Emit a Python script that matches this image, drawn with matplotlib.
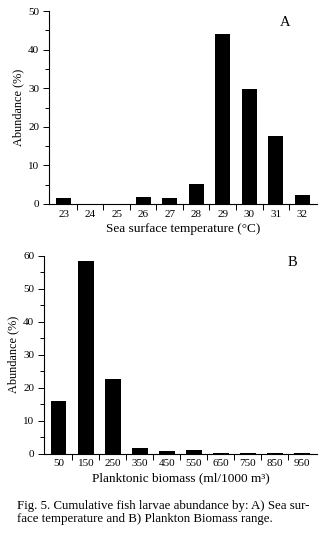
import numpy as np
import matplotlib.pyplot as plt
from matplotlib.ticker import MultipleLocator, FixedLocator

plt.rcParams['font.family'] = ['Liberation Serif', 'DejaVu Serif']

# A) abundance by sea surface temperature
sst_labels = ['23', '24', '25', '26', '27', '28', '29', '30', '31', '32']
sst_abund = [1.5, 0.0, 0.0, 1.9, 1.5, 5.1, 44.2, 29.7, 17.6, 2.3]

# B) abundance by planktonic biomass
bio_labels = ['50', '150', '250', '350', '450', '550', '650', '750', '850', '950']
bio_abund = [16.1, 58.5, 22.7, 1.7, 0.9, 1.2, 0.3, 0.2, 0.2, 0.3]

fig = plt.figure(figsize=(3.23, 5.34), dpi=100)
axA = fig.add_axes([0.152, 0.618, 0.829, 0.361])
axB = fig.add_axes([0.136, 0.150, 0.845, 0.371])


def style(ax, labels, vals, ymax, letter, lpos, xlabel):
    x = np.arange(len(labels))
    ax.bar(x, vals, width=0.57, color='black')
    ax.set_xlim(-0.55, len(labels) - 0.45)
    ax.set_ylim(0, ymax)
    ax.spines['top'].set_visible(False)
    ax.spines['right'].set_visible(False)
    ax.spines['left'].set_linewidth(0.8)
    ax.spines['bottom'].set_linewidth(0.8)
    ax.yaxis.set_major_locator(MultipleLocator(10))
    ax.yaxis.set_minor_locator(MultipleLocator(5))
    ax.tick_params(axis='y', which='major', length=4, width=0.7, labelsize=8, pad=3)
    ax.tick_params(axis='y', which='minor', length=3, width=0.7)
    # labels at bar centres, ticks at category boundaries
    ax.set_xticks(x)
    ax.set_xticklabels(labels)
    ax.tick_params(axis='x', which='major', length=0, labelsize=8, pad=4)
    ax.xaxis.set_minor_locator(FixedLocator(x[:-1] + 0.5))
    ax.tick_params(axis='x', which='minor', length=4, width=0.7)
    ax.set_ylabel('Abundance (%)', fontsize=8.8, labelpad=3)
    ax.set_xlabel(xlabel, fontsize=9.5, labelpad=3)
    ax.text(lpos[0], lpos[1], letter, transform=ax.transAxes, fontsize=10.5,
            ha='center', va='center')


style(axA, sst_labels, sst_abund, 50, 'A', (0.88, 0.94),
      'Sea surface temperature (\u00b0C)')
style(axB, bio_labels, bio_abund, 60, 'B', (0.91, 0.965),
      'Planktonic biomass (ml/1000 m\u00b3)')

fig.text(0.053, 0.064, 'Fig. 5. Cumulative fish larvae abundance by: A) Sea sur-\n'
         'face temperature and B) Plankton Biomass range.',
         fontsize=9.3, ha='left', va='top', linespacing=1.1)

fig.savefig('out.png', dpi=100)
